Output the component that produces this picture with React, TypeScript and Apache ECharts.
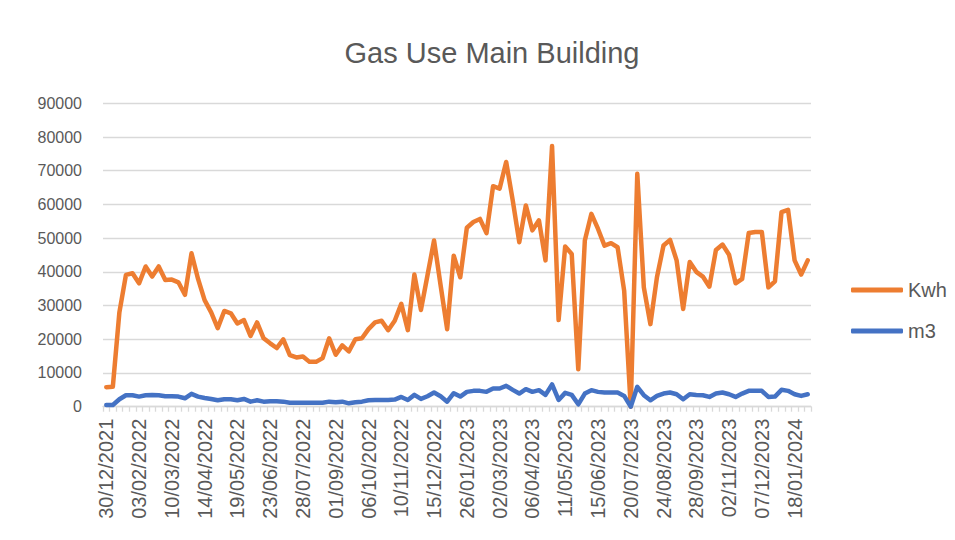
import React, { useEffect, useRef } from "react";
import * as echarts from "echarts";

const categories: string[] = [
  "30/12/2021", "06/01/2022", "13/01/2022", "20/01/2022", "27/01/2022", "03/02/2022", "10/02/2022", "17/02/2022", "24/02/2022", "03/03/2022",
  "10/03/2022", "17/03/2022", "24/03/2022", "31/03/2022", "07/04/2022", "14/04/2022", "21/04/2022", "28/04/2022", "05/05/2022", "12/05/2022",
  "19/05/2022", "26/05/2022", "02/06/2022", "09/06/2022", "16/06/2022", "23/06/2022", "30/06/2022", "07/07/2022", "14/07/2022", "21/07/2022",
  "28/07/2022", "04/08/2022", "11/08/2022", "18/08/2022", "25/08/2022", "01/09/2022", "08/09/2022", "15/09/2022", "22/09/2022", "29/09/2022",
  "06/10/2022", "13/10/2022", "20/10/2022", "27/10/2022", "03/11/2022", "10/11/2022", "17/11/2022", "24/11/2022", "01/12/2022", "08/12/2022",
  "15/12/2022", "22/12/2022", "05/01/2023", "12/01/2023", "19/01/2023", "26/01/2023", "02/02/2023", "09/02/2023", "16/02/2023", "23/02/2023",
  "02/03/2023", "09/03/2023", "16/03/2023", "23/03/2023", "30/03/2023", "06/04/2023", "13/04/2023", "20/04/2023", "27/04/2023", "04/05/2023",
  "11/05/2023", "18/05/2023", "25/05/2023", "01/06/2023", "08/06/2023", "15/06/2023", "22/06/2023", "29/06/2023", "06/07/2023", "13/07/2023",
  "20/07/2023", "27/07/2023", "03/08/2023", "10/08/2023", "17/08/2023", "24/08/2023", "31/08/2023", "07/09/2023", "14/09/2023", "21/09/2023",
  "28/09/2023", "05/10/2023", "12/10/2023", "19/10/2023", "26/10/2023", "02/11/2023", "09/11/2023", "16/11/2023", "23/11/2023", "30/11/2023",
  "07/12/2023", "14/12/2023", "21/12/2023", "04/01/2024", "11/01/2024", "18/01/2024", "25/01/2024", "01/02/2024",
];

const kwh: number[] = [
  5800, 5900, 28000, 39100, 39600, 36600, 41600, 38600, 41600, 37600,
  37700, 36900, 33200, 45500, 37900, 31600, 28000, 23300, 28400, 27700,
  24700, 25700, 21000, 25000, 20300, 18800, 17400, 20000, 15300, 14600,
  14900, 13300, 13300, 14400, 20300, 15400, 18200, 16400, 20000, 20300,
  23000, 25000, 25500, 22700, 25500, 30500, 22700, 39200, 28700, 39000,
  49300, 36000, 23000, 44800, 38400, 53100, 54800, 55700, 51500, 65400,
  64700, 72600, 61200, 48800, 59700, 52300, 55300, 43400, 77300, 25700,
  47500, 45300, 11100, 49300, 57200, 52800, 47800, 48500, 47300, 34400,
  0, 69100, 35400, 24500, 38400, 47800, 49500, 43400, 29000, 42900,
  40000, 38600, 35600, 46500, 48100, 45100, 36600, 37900, 51500, 51800,
  51800, 35400, 37200, 57700, 58400, 43400, 39200, 43400,
];

const m3: number[] = [
  500, 500, 2200, 3400, 3400, 3000, 3400, 3500, 3400, 3100,
  3100, 3000, 2500, 3800, 3000, 2600, 2300, 1900, 2200, 2200,
  1900, 2300, 1500, 1900, 1500, 1600, 1600, 1500, 1200, 1200,
  1200, 1200, 1200, 1200, 1500, 1300, 1500, 1000, 1300, 1500,
  1900, 2000, 2000, 2000, 2100, 2900, 2000, 3500, 2300, 3100,
  4200, 3100, 1500, 4000, 3000, 4400, 4700, 4700, 4400, 5400,
  5400, 6200, 5000, 3900, 5200, 4400, 4900, 3500, 6600, 2000,
  4100, 3500, 700, 3900, 4900, 4400, 4200, 4200, 4200, 3200,
  0, 5900, 3400, 1900, 3200, 3900, 4200, 3700, 2200, 3700,
  3500, 3400, 2900, 3900, 4200, 3700, 2900, 3900, 4700, 4700,
  4700, 2900, 3000, 5000, 4700, 3700, 3200, 3700,
];

const seriesNames = ["Kwh", "m3"];
const title = "Gas Use Main Building";

export default function App() {
  const ref = useRef<HTMLDivElement>(null);
  useEffect(() => {
    if (!ref.current) return;
    const chart = echarts.init(ref.current, undefined, { renderer: "svg" });
    const font = "'Liberation Sans', Arial, sans-serif";
    const gray = "#595959";
    chart.setOption({
      animation: false,
      backgroundColor: "#ffffff",
      textStyle: { fontFamily: font },
      title: {
        text: title,
        left: 487,
        top: 33,
        textAlign: "center",
        textStyle: { fontFamily: font, fontSize: 29, fontWeight: "normal", color: gray },
      },
      legend: {
        orient: "vertical",
        left: 846,
        top: 275,
        itemWidth: 52,
        itemHeight: 5,
        itemGap: 21,
        icon: "roundRect",
        textStyle: { fontFamily: font, fontSize: 20, color: gray },
        data: seriesNames,
      },
      grid: { left: 103, right: 144, top: 103.3, bottom: 133.3, containLabel: false },
      xAxis: {
        type: "category",
        data: categories,
        boundaryGap: true,
        axisLine: { show: true, lineStyle: { color: "#D9D9D9", width: 1.3 } },
        axisTick: { show: true, interval: 0, length: 5, lineStyle: { color: "#D9D9D9", width: 1.3 } },
        axisLabel: {
          interval: 4,
          rotate: 90,
          margin: 12,
          color: gray,
          fontSize: 20,
          fontFamily: font,
        },
        splitLine: { show: false },
      },
      yAxis: {
        type: "value",
        min: 0,
        max: 90000,
        interval: 10000,
        axisLine: { show: false },
        axisTick: { show: false },
        axisLabel: {
          color: gray,
          fontSize: 16,
          margin: 21,
          fontFamily: font,
          formatter: (v: number) => String(v),
        },
        splitLine: { lineStyle: { color: "#D9D9D9", width: 1.3 } },
      },
      series: [
        {
          name: seriesNames[0],
          type: "line",
          data: kwh,
          symbol: "none",
          color: "#ED7D31",
          lineStyle: { width: 4.5, color: "#ED7D31", cap: "round", join: "round" },
        },
        {
          name: seriesNames[1],
          type: "line",
          data: m3,
          symbol: "none",
          color: "#4472C4",
          lineStyle: { width: 4.5, color: "#4472C4", cap: "round", join: "round" },
        },
      ],
    });
    return () => chart.dispose();
  }, []);
  return (
    <div
      ref={ref}
      style={{ position: "absolute", left: 0, top: 0, width: 955, height: 540 }}
    />
  );
}
